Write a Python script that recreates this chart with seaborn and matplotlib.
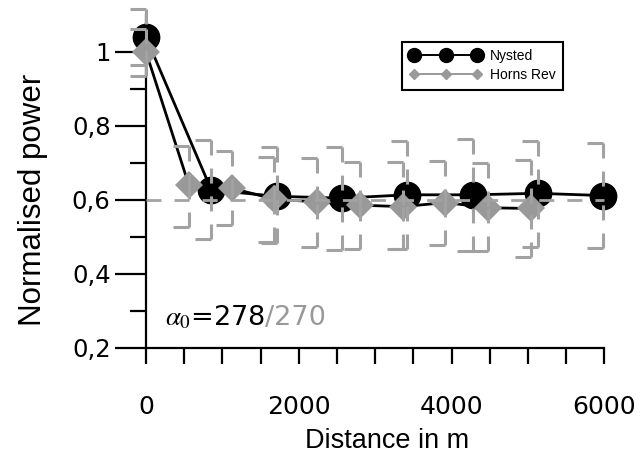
import numpy as np
import pandas as pd
import matplotlib
matplotlib.use("Agg")
import matplotlib.pyplot as plt
import seaborn as sns
from matplotlib.path import Path
from matplotlib.lines import Line2D
from matplotlib.ticker import MultipleLocator, FixedLocator, FuncFormatter

# ---------------- data ----------------
nysted_x = [0, 855, 1710, 2565, 3420, 4275, 5130, 5985]
nysted_y = [1.04, 0.627, 0.61, 0.605, 0.614, 0.614, 0.618, 0.612]
nysted_lo = [0.965, 0.494, 0.484, 0.465, 0.468, 0.462, 0.474, 0.469]
nysted_hi = [1.115, 0.762, 0.744, 0.744, 0.760, 0.764, 0.760, 0.753]

horns_x = [0, 560, 1120, 1680, 2240, 2800, 3360, 3920, 4480, 5040]
horns_y = [1.0, 0.641, 0.632, 0.602, 0.595, 0.586, 0.582, 0.593, 0.579, 0.577]
horns_lo = [0.935, 0.528, 0.532, 0.487, 0.474, 0.468, 0.468, 0.478, 0.462, 0.447]
horns_hi = [1.061, 0.746, 0.733, 0.717, 0.713, 0.704, 0.704, 0.705, 0.699, 0.708]

series_names = ["Nysted", "Horns Rev"]
reference_level = 0.6
x_major = [0, 2000, 4000, 6000]
y_major = [0.2, 0.4, 0.6, 0.8, 1.0]
y_minor = [0.3, 0.5, 0.7, 0.9]
annot_black = r"$\alpha_0$=278"
annot_grey = "/270"

# ---------------- style ----------------
sns.set_style("ticks")
plt.rcParams["font.family"] = ["DejaVu Sans"]
plt.rcParams["lines.scale_dashes"] = False
plt.rcParams["text.color"] = "black"
plt.rcParams["axes.labelcolor"] = "black"
plt.rcParams["xtick.color"] = "black"
plt.rcParams["ytick.color"] = "black"

GREY = "#999999"
EB = "#a2a2a2"
DASH = (0, (10.8, 9.4))

fig = plt.figure(figsize=(6.41, 4.54), dpi=100)
ax = fig.add_axes([0.2278, 0.2335, 0.7150, 0.7335])

df_n = pd.DataFrame({"x": nysted_x, "y": nysted_y})
df_h = pd.DataFrame({"x": horns_x, "y": horns_y})

sns.lineplot(data=df_n, x="x", y="y", ax=ax, color="black", lw=2.0,
             marker="o", markersize=20, markeredgewidth=0,
             markerfacecolor="black", clip_on=False, zorder=3, legend=False)
sns.lineplot(data=df_h, x="x", y="y", ax=ax, color="black", lw=2.0,
             marker="D", markersize=14.5, markeredgewidth=0,
             markerfacecolor=GREY, clip_on=False, zorder=4, legend=False)

# reference dashed line
ax.axhline(reference_level, color=EB, lw=2.0, linestyle=DASH, zorder=6,
           clip_on=False)

# error bars: dashed, half caps to the left
cap = Path([(-1.0, 0.0), (0.0, 0.0)], [Path.MOVETO, Path.LINETO])
for xs, ys, lo, hi in [(nysted_x, nysted_y, nysted_lo, nysted_hi),
                       (horns_x, horns_y, horns_lo, horns_hi)]:
    ax.vlines(xs, hi, ys, colors=EB, lw=2.2, linestyles=[DASH], zorder=6,
              clip_on=False)
    ax.vlines(xs, lo, ys, colors=EB, lw=2.2, linestyles=[DASH], zorder=6,
              clip_on=False)
    for b in (lo, hi):
        ax.plot(xs, b, ls="none", marker=cap, markersize=23,
                markeredgecolor=EB, markerfacecolor="none",
                markeredgewidth=2.2, zorder=6, clip_on=False)

# axes
ax.set_xlim(0, 6000)
ax.set_ylim(0.2, 1.1)
sns.despine(ax=ax)
for s in ("left", "bottom"):
    ax.spines[s].set_linewidth(1.6)
    ax.spines[s].set_color("black")

ax.xaxis.set_major_locator(FixedLocator(x_major))
ax.xaxis.set_minor_locator(MultipleLocator(500))
ax.yaxis.set_major_locator(FixedLocator(y_major))
ax.yaxis.set_minor_locator(FixedLocator(y_minor))
ax.yaxis.set_major_formatter(FuncFormatter(
    lambda v, p: "1" if abs(v - 1) < 1e-9 else f"{v:.1f}".replace(".", ",")))

ax.tick_params(axis="x", which="both", direction="out", length=11.5,
               width=1.6, color="black")
ax.tick_params(axis="x", which="major", labelsize=18, pad=22,
               labelcolor="black")
ax.tick_params(axis="y", which="major", direction="out", length=22,
               width=1.6, color="black", labelsize=17.5, pad=3.5,
               labelcolor="black")
ax.tick_params(axis="y", which="minor", direction="out", length=11.5,
               width=1.6, color="black")

ax.set_ylabel("Normalised power", fontfamily="Liberation Sans", fontsize=22.5,
              color="black")
ax.yaxis.set_label_coords(-0.214, 0.444)
ax.set_xlabel("Distance in m", fontfamily="Liberation Sans", fontsize=19.5,
              color="black")
ax.xaxis.set_label_coords(0.526, -0.24)

# annotation
t = ax.text(250, 0.283, annot_black, fontsize=19.5, color="black",
            va="center", ha="left", math_fontfamily="stix")
ax.annotate(annot_grey, xy=(1, 0), xycoords=t, va="bottom", ha="left",
            fontsize=19.5, color=GREY)

# legend
handles = [
    Line2D([], [], color="black", lw=1.4, marker="o", markersize=10,
           markerfacecolor="black", markeredgecolor="black"),
    Line2D([], [], color=GREY, lw=1.4, marker="D", markersize=5.5,
           markerfacecolor=GREY, markeredgecolor=GREY),
]
leg = ax.legend(handles, series_names, loc="upper left",
                bbox_to_anchor=(0.558, 0.92), borderaxespad=0, numpoints=3,
                handlelength=5.2, handletextpad=0.6, borderpad=0.55,
                labelspacing=0.35, frameon=True, fancybox=False,
                framealpha=1, edgecolor="black",
                prop={"family": "Liberation Sans", "size": 10})
leg.get_frame().set_linewidth(1.5)
leg.set_zorder(10)

fig.savefig("out.png", dpi=100)
